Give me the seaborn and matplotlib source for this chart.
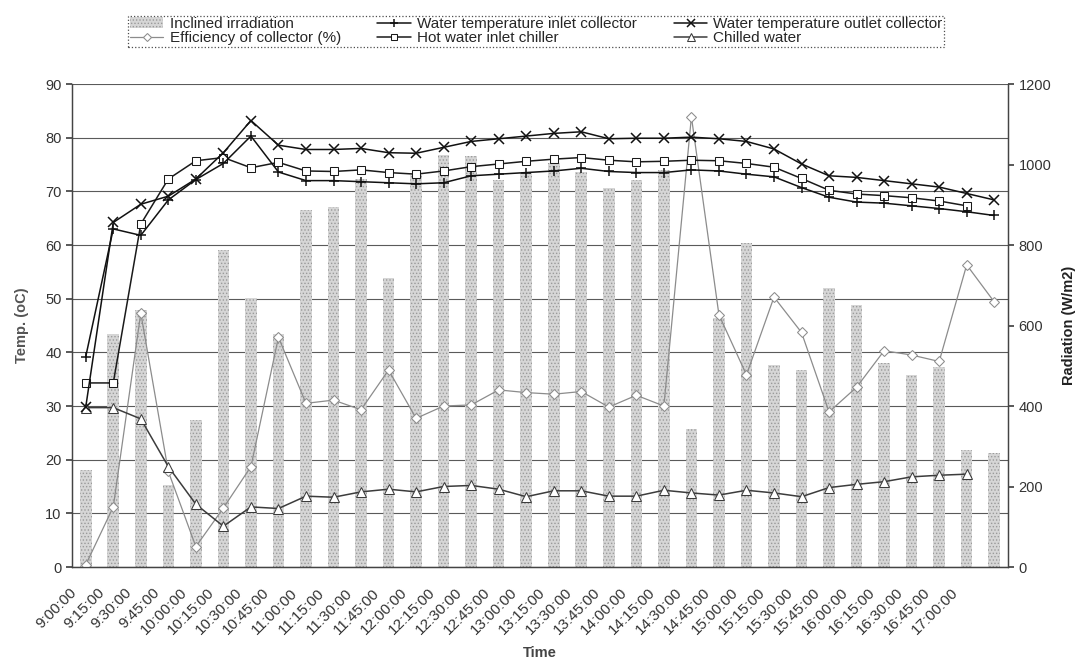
import numpy as np
import matplotlib
matplotlib.use("Agg")
import matplotlib.pyplot as plt
import seaborn as sns

# --- data ---
times = ["9:00:00", "9:15:00", "9:30:00", "9:45:00", "10:00:00", "10:15:00",
         "10:30:00", "10:45:00", "11:00:00", "11:15:00", "11:30:00", "11:45:00",
         "12:00:00", "12:15:00", "12:30:00", "12:45:00", "13:00:00", "13:15:00",
         "13:30:00", "13:45:00", "14:00:00", "14:15:00", "14:30:00", "14:45:00",
         "15:00:00", "15:15:00", "15:30:00", "15:45:00", "16:00:00", "16:15:00",
         "16:30:00", "16:45:00", "17:00:00", ""]

radiation = [240, 580, 638, 204, 364, 788, 668, 580, 887, 895, 965, 717,
             975, 1024, 1020, 961, 978, 1003, 982, 941, 961, 987, 344, 618,
             806, 502, 489, 692, 651, 506, 477, 498, 291, 284]

inlet_collector = [39.2, 63.0, 61.8, 68.4, 72.2, 75.2, 80.3, 73.6, 72.0, 72.0,
                   71.8, 71.6, 71.4, 71.6, 72.9, 73.2, 73.5, 73.8, 74.3, 73.7,
                   73.5, 73.5, 74.0, 73.8, 73.2, 72.7, 70.7, 68.9, 68.0, 67.8,
                   67.3, 66.8, 66.2, 65.5]

outlet_collector = [29.8, 64.2, 67.6, 69.1, 72.3, 77.2, 83.2, 78.6, 77.8, 77.8,
                    78.0, 77.2, 77.1, 78.2, 79.3, 79.8, 80.3, 80.8, 81.1, 79.8,
                    79.9, 79.9, 80.1, 79.8, 79.3, 77.9, 75.1, 72.9, 72.6, 72.0,
                    71.4, 70.8, 69.6, 68.4]

hot_water_chiller = [34.3, 34.3, 63.9, 72.3, 75.7, 76.3, 74.4, 75.4, 73.8, 73.7,
                     74.0, 73.5, 73.2, 73.8, 74.6, 75.1, 75.6, 76.0, 76.3, 75.8,
                     75.5, 75.6, 75.8, 75.7, 75.2, 74.5, 72.4, 70.2, 69.5, 69.2,
                     68.8, 68.2, 67.3, np.nan]

chilled_water = [29.7, 29.7, 27.6, 18.7, 11.7, 7.6, 11.2, 10.9, 13.2, 13.0,
                 14.0, 14.5, 14.0, 15.0, 15.2, 14.5, 13.1, 14.2, 14.2, 13.2,
                 13.2, 14.3, 13.8, 13.4, 14.3, 13.8, 13.1, 14.8, 15.4, 15.9,
                 16.8, 17.1, 17.3, np.nan]

efficiency = [0.4, 11.2, 47.3, 17.8, 3.8, 11.0, 18.7, 42.8, 30.5, 31.1,
              29.3, 36.7, 27.7, 30.0, 30.2, 33.0, 32.5, 32.2, 32.7, 29.8,
              32.0, 30.0, 83.9, 47.0, 35.8, 50.3, 43.7, 28.9, 33.5, 40.3,
              39.5, 38.3, 56.3, 49.4]

# --- style ---
sns.set_theme(style="white")
plt.rcParams['font.family'] = ['Liberation Sans', 'DejaVu Sans']
plt.rcParams['hatch.linewidth'] = 0.6

pos = np.arange(len(times))

fig = plt.figure(figsize=(10.79, 6.6), dpi=100)
ax = fig.add_axes([0.0667, 0.1409, 0.8675, 0.7318])
ax2 = ax.twinx()

# bars on the radiation axis, kept behind the temperature lines
sns.barplot(x=pos, y=radiation, ax=ax2, color="#d6d6d6", saturation=1,
            width=0.42, hatch=".....", edgecolor="#9a9a9a", linewidth=0,
            label="Inclined irradiation")
ax.set_zorder(ax2.get_zorder() + 1)
ax.patch.set_visible(False)

# horizontal gridlines every 10 degC (=133.3 W/m2)
for g in np.arange(0, 1201, 400 / 3):
    ax2.axhline(g, color="#5a5a5a", lw=0.8, zorder=0)

sns.lineplot(x=pos, y=efficiency, ax=ax, color="#8c8c8c", lw=0.9,
             marker="D", markersize=5, markerfacecolor="white",
             markeredgecolor="#8c8c8c", label="Efficiency of collector (%)")
sns.lineplot(x=pos, y=chilled_water, ax=ax, color="#3c3c3c", lw=1.1,
             marker="^", markersize=7, markerfacecolor="white",
             markeredgecolor="#3c3c3c", label="Chilled water")
sns.lineplot(x=pos, y=hot_water_chiller, ax=ax, color="#1a1a1a", lw=1.1,
             marker="s", markersize=6, markerfacecolor="white",
             markeredgecolor="#1a1a1a", label="Hot water inlet chiller")
sns.lineplot(x=pos, y=inlet_collector, ax=ax, color="#111111", lw=1.1,
             marker="+", markersize=7, markeredgewidth=1.1,
             markeredgecolor="#111111",
             label="Water temperature inlet collector")
sns.lineplot(x=pos, y=outlet_collector, ax=ax, color="#111111", lw=1.1,
             marker="x", markersize=6.5, markeredgewidth=1.1,
             markeredgecolor="#111111",
             label="Water temperature outlet collector")

for a in (ax, ax2):
    if a.get_legend() is not None:
        a.get_legend().remove()

# axes
ax.set_xlim(-0.5, len(times) - 0.5)
ax.set_ylim(0, 90)
ax.set_yticks(np.arange(0, 91, 10))
ax2.set_ylim(0, 1200)
ax2.set_yticks(np.arange(0, 1201, 200))

# rotated labels end a little left of and below each category centre
ax.set_xticks(pos - 0.4)
ax.set_xticklabels(times, rotation=45, ha="right", va="center",
                   rotation_mode="anchor", fontsize=11, color="#333333")
ax.set_xticks(np.arange(-0.5, len(times), 1), minor=True)
ax.tick_params(axis="x", which="major", length=0, pad=17)
ax.tick_params(axis="x", which="minor", length=4, color="#444444", direction="out")
ax.tick_params(axis="y", length=4, color="#444444", direction="out",
               labelsize=10.5, labelcolor="#333333")
ax2.tick_params(axis="y", length=4, color="#444444", direction="out",
                labelsize=10.5, labelcolor="#333333")

for a in (ax, ax2):
    a.spines["top"].set_visible(False)
    for s in ("left", "right", "bottom"):
        a.spines[s].set_color("#444444")
        a.spines[s].set_linewidth(0.9)

ax.set_ylabel("Temp. (oC)", fontsize=10.5, fontweight="bold", color="#555555",
              labelpad=12)
ax2.set_ylabel("Radiation (W/m2)", fontsize=10.5, fontweight="bold",
               color="#222222", labelpad=8)
ax.set_xlabel("Time", fontsize=10.5, fontweight="bold", color="#444444",
              labelpad=6)

# legend across the top, filled column-wise
h_ax, l_ax = ax.get_legend_handles_labels()
h_b, l_b = ax2.get_legend_handles_labels()
lookup = dict(zip(l_ax + l_b, h_ax + h_b))
order = ["Inclined irradiation", "Efficiency of collector (%)",
         "Water temperature inlet collector", "Hot water inlet chiller",
         "Water temperature outlet collector", "Chilled water"]
leg = fig.legend([lookup[k] for k in order], order, loc="upper center",
                 bbox_to_anchor=(0.497, 0.988), ncol=3, fontsize=11,
                 frameon=True, fancybox=False, borderpad=0.1,
                 labelspacing=0.0, columnspacing=2.4, handlelength=2.2,
                 handletextpad=0.4, markerscale=0.8)
leg.get_frame().set_edgecolor("#222222")
leg.get_frame().set_linestyle(":")
leg.get_frame().set_linewidth(0.9)

fig.savefig("out.png", dpi=100, facecolor="white")
